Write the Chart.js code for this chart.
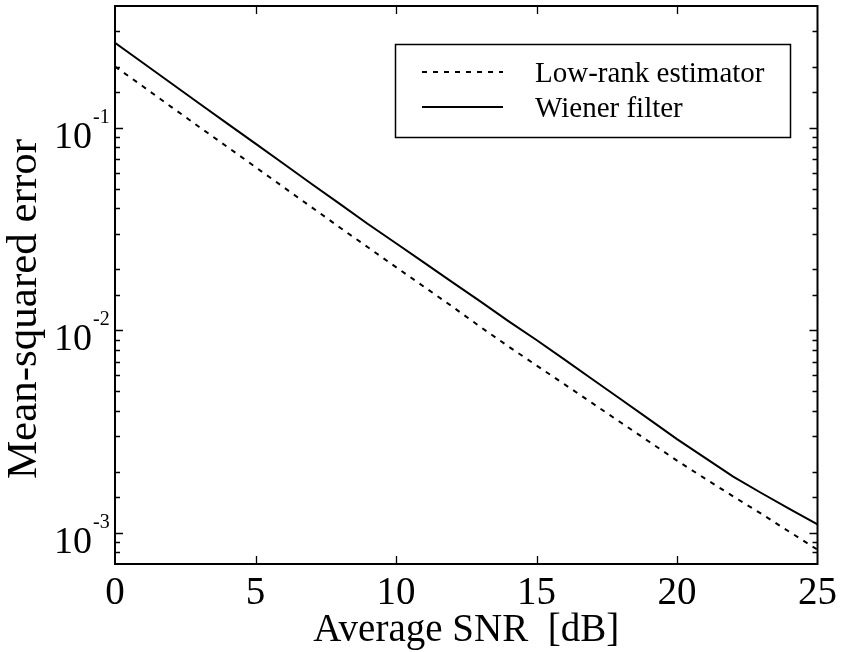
<!DOCTYPE html>
<html>
<head>
<meta charset="utf-8">
<script src="https://cdn.jsdelivr.net/npm/chart.js@4.4.0/dist/chart.umd.min.js"></script>
<style>
html, body { margin: 0; padding: 0; background: #fff; }
#wrap { width: 847px; height: 652px; }
</style>
</head>
<body>
<div id="wrap"><canvas id="mse-chart"></canvas></div>
<script>
var snrDb = [0,1,2,3,4,5,6,7,8,9,10,11,12,13,14,15,16,17,18,19,20,21,22,23,24,25];
var lowRankMse = [0.201, 0.160, 0.127, 0.101, 0.0805, 0.0640, 0.0509, 0.0405, 0.0322, 0.0257,
                  0.0205, 0.0164, 0.0131, 0.0104, 0.00832, 0.00670, 0.00540, 0.00435, 0.00350, 0.00282,
                  0.00227, 0.00185, 0.00151, 0.00124, 0.00101, 0.000824];
var wienerMse = [0.263, 0.209, 0.166, 0.132, 0.105, 0.0836, 0.0665, 0.0528, 0.0421, 0.0335,
                 0.0269, 0.0216, 0.0173, 0.0139, 0.0111, 0.00895, 0.00716, 0.00571, 0.00456, 0.00364,
                 0.00290, 0.00234, 0.00189, 0.00157, 0.00131, 0.00110];
var seriesNames = ["Low-rank estimator", "Wiener filter"];
var xTickValues = [0, 5, 10, 15, 20, 25];
var yDecadeExps = [-3, -2, -1];
var xTitle = "Average SNR  [dB]";
var yTitle = "Mean-squared error";

var serif = "'Liberation Serif', 'DejaVu Serif', serif";

// frame, inward ticks on all four sides, 10^n labels, y title and boxed legend
var framePlugin = {
  id: 'frameTicks',
  afterDraw: function(chart) {
    var ctx = chart.ctx, a = chart.chartArea;
    var xs = chart.scales.x, ys = chart.scales.y;
    ctx.save();
    ctx.strokeStyle = '#000';
    ctx.fillStyle = '#000';
    ctx.lineWidth = 2;
    ctx.strokeRect(a.left, a.top, a.right - a.left, a.bottom - a.top);

    ctx.lineWidth = 1.3;
    ctx.beginPath();
    xTickValues.forEach(function(v) {
      var px = Math.round(xs.getPixelForValue(v)) + 0.5;
      if (v === xs.min || v === xs.max) return;
      ctx.moveTo(px, a.bottom); ctx.lineTo(px, a.bottom - 8);
      ctx.moveTo(px, a.top); ctx.lineTo(px, a.top + 8);
    });
    ys.ticks.forEach(function(t) {
      if (t.value <= ys.min || t.value >= ys.max) return;
      var lg = Math.log10(t.value);
      var major = Math.abs(lg - Math.round(lg)) < 1e-6;
      var len = major ? 8 : 5;
      var py = Math.round(ys.getPixelForValue(t.value)) + 0.5;
      ctx.moveTo(a.left, py); ctx.lineTo(a.left + len, py);
      ctx.moveTo(a.right, py); ctx.lineTo(a.right - len, py);
    });
    ctx.stroke();

    // y tick labels with superscript exponent
    ctx.textBaseline = 'alphabetic';
    yDecadeExps.forEach(function(e) {
      var py = ys.getPixelForValue(Math.pow(10, e));
      ctx.font = '38px ' + serif;
      ctx.textAlign = 'right';
      ctx.fillText('10', a.left - 23, py + 20);
      ctx.font = '20px ' + serif;
      ctx.textAlign = 'left';
      ctx.fillText('-' + Math.abs(e), a.left - 22, py - 5);
    });

    // y title
    ctx.save();
    ctx.translate(36, 309);
    ctx.rotate(-Math.PI / 2);
    ctx.font = '43px ' + serif;
    ctx.textAlign = 'center';
    ctx.textBaseline = 'alphabetic';
    ctx.fillText(yTitle, 0, 0);
    ctx.restore();

    // legend
    var box = {x: 395, y: 44, w: 395, h: 93};
    ctx.lineWidth = 1.5;
    ctx.strokeRect(box.x + 0.5, box.y + 0.5, box.w, box.h);
    ctx.font = '29px ' + serif;
    ctx.textAlign = 'left';
    chart.data.datasets.forEach(function(ds, i) {
      var ly = box.y + 28 + i * 35;
      ctx.save();
      ctx.lineWidth = ds.borderWidth;
      ctx.setLineDash(ds.borderDash || []);
      ctx.beginPath();
      ctx.moveTo(box.x + 27, ly);
      ctx.lineTo(box.x + 108, ly);
      ctx.stroke();
      ctx.restore();
      ctx.fillText(ds.label, box.x + 140, ly + 10);
    });
    ctx.restore();
  }
};

var msePoints = function(vals) {
  return snrDb.map(function(x, i) { return {x: x, y: vals[i]}; });
};

var mseConfig = {
  type: 'line',
  data: {
    datasets: [{
      label: seriesNames[0],
      data: msePoints(lowRankMse),
      borderColor: '#000',
      borderWidth: 2,
      borderDash: [5, 6],
      pointRadius: 0,
      fill: false,
      tension: 0
    }, {
      label: seriesNames[1],
      data: msePoints(wienerMse),
      borderColor: '#000',
      borderWidth: 2,
      pointRadius: 0,
      fill: false,
      tension: 0
    }]
  },
  options: {
    responsive: true,
    maintainAspectRatio: false,
    animation: false,
    devicePixelRatio: 1,
    layout: { padding: { left: 115, right: 26, top: 6, bottom: 0 } },
    plugins: {
      legend: { display: false },
      title: { display: false },
      tooltip: { enabled: false }
    },
    scales: {
      x: {
        type: 'linear',
        min: 0,
        max: 25,
        grid: { display: false, drawTicks: false },
        border: { display: false },
        ticks: {
          stepSize: 5,
          padding: 10,
          color: '#000',
          maxRotation: 0,
          font: { family: serif, size: 39, lineHeight: 1.0 }
        },
        title: {
          display: true,
          text: xTitle,
          color: '#000',
          padding: { top: -12, bottom: 2 },
          font: { family: serif, size: 39, lineHeight: 1.0 }
        }
      },
      y: {
        type: 'logarithmic',
        min: 0.0007,
        max: 0.4,
        grid: { display: false, drawTicks: false },
        border: { display: false },
        ticks: { display: false }
      }
    }
  }
};

window.onload = function() {
  var ctx = document.getElementById("mse-chart").getContext("2d");
  window.mseChart = new Chart(ctx, mseConfig);
};
Chart.register(framePlugin);
</script>
</body>
</html>
